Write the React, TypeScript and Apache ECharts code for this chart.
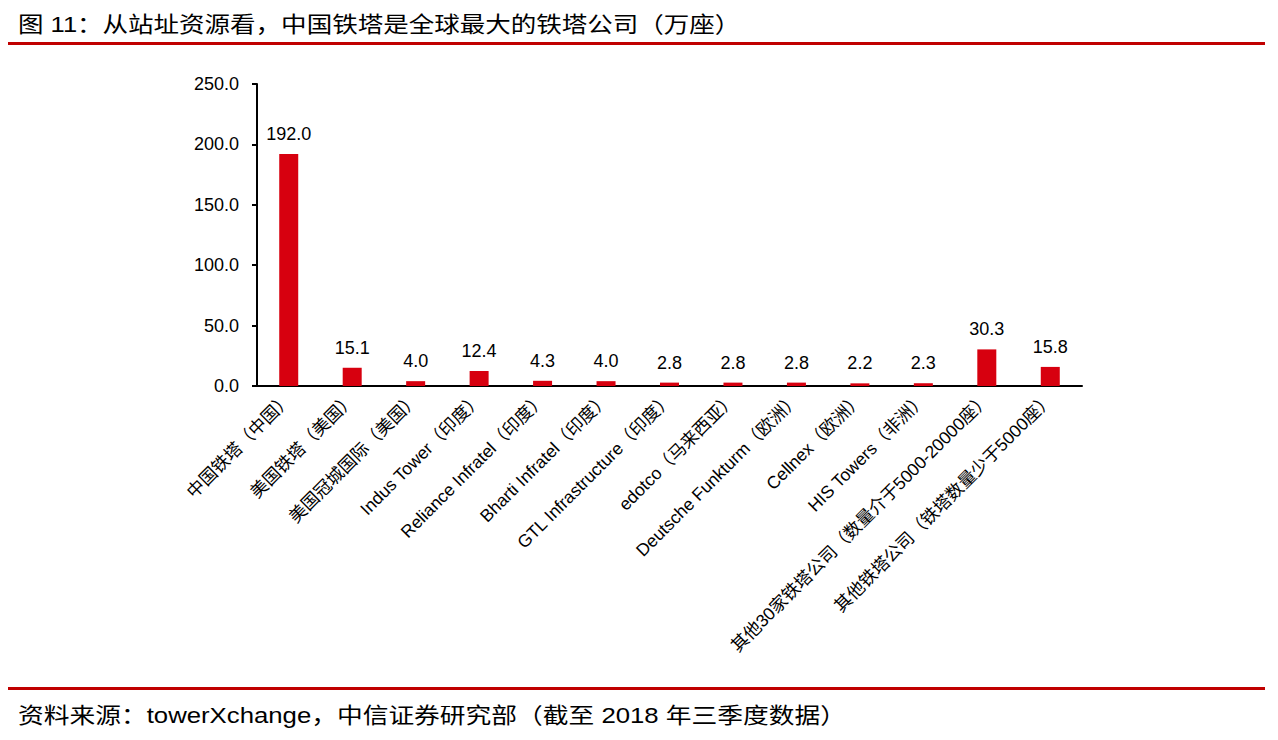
import React, { useEffect, useRef } from "react";
import * as echarts from "echarts";

const categories = [
  "中国铁塔（中国）",
  "美国铁塔（美国）",
  "美国冠城国际（美国）",
  "Indus Tower（印度）",
  "Reliance Infratel（印度）",
  "Bharti Infratel（印度）",
  "GTL Infrastructure（印度）",
  "edotco（马来西亚）",
  "Deutsche Funkturm（欧洲）",
  "Cellnex（欧洲）",
  "HIS Towers（非洲）",
  "其他30家铁塔公司（数量介于5000-20000座）",
  "其他铁塔公司（铁塔数量少于5000座）",
];
const towerCounts = [192.0, 15.1, 4.0, 12.4, 4.3, 4.0, 2.8, 2.8, 2.8, 2.2, 2.3, 30.3, 15.8];

const titleText = "图 11：从站址资源看，中国铁塔是全球最大的铁塔公司（万座）";
const sourceText = "资料来源：towerXchange，中信证券研究部（截至 2018 年三季度数据）";

const FONT = "'Liberation Sans', Arial, 'Noto Sans CJK SC', sans-serif";
const RED = "#C00000";

export default function App() {
  const ref = useRef<HTMLDivElement>(null);
  useEffect(() => {
    if (!ref.current) return;
    const chart = echarts.init(ref.current, undefined, { renderer: "svg" });
    chart.setOption({
      animation: false,
      backgroundColor: "#ffffff",
      textStyle: { fontFamily: FONT },
      grid: { left: 257, right: 196, top: 84, bottom: 354, containLabel: false },
      xAxis: {
        type: "category",
        data: categories,
        axisLine: { lineStyle: { color: "#000", width: 2 } },
        axisTick: { show: false },
        axisLabel: {
          rotate: 45,
          interval: 0,
          fontSize: 17.5,
          color: "#000",
          fontFamily: FONT,
          margin: 10,
        },
      },
      yAxis: {
        type: "value",
        min: 0,
        max: 250,
        interval: 50,
        axisLine: { show: true, lineStyle: { color: "#000", width: 2 } },
        axisTick: { show: true, inside: false, length: 5, lineStyle: { color: "#000", width: 2 } },
        splitLine: { show: false },
        axisLabel: {
          fontSize: 18,
          color: "#000",
          fontFamily: FONT,
          margin: 18,
          formatter: (v: number) => v.toFixed(1),
        },
      },
      series: [
        {
          type: "bar",
          data: towerCounts,
          barWidth: 19,
          itemStyle: { color: "#D7000F" },
          label: {
            show: true,
            position: "top",
            distance: 11,
            fontSize: 18,
            color: "#000",
            fontFamily: FONT,
            formatter: (p: any) => Number(p.value).toFixed(1),
          },
        },
      ],
      graphic: [
        {
          type: "text",
          x: 18,
          y: 13,
          scaleX: 1.16,
          style: { text: titleText, fontSize: 22, fill: "#000", fontFamily: FONT },
        },
        {
          type: "rect",
          shape: { x: 8, y: 42, width: 1257, height: 3 },
          style: { fill: RED },
        },
        {
          type: "rect",
          shape: { x: 8, y: 687, width: 1257, height: 3 },
          style: { fill: RED },
        },
        {
          type: "text",
          x: 18,
          y: 704,
          scaleX: 1.17,
          style: { text: sourceText, fontSize: 22, fill: "#000", fontFamily: FONT },
        },
      ],
    });
    return () => chart.dispose();
  }, []);
  return <div ref={ref} style={{ width: 1278, height: 740, position: "absolute", left: 0, top: 0 }} />;
}
